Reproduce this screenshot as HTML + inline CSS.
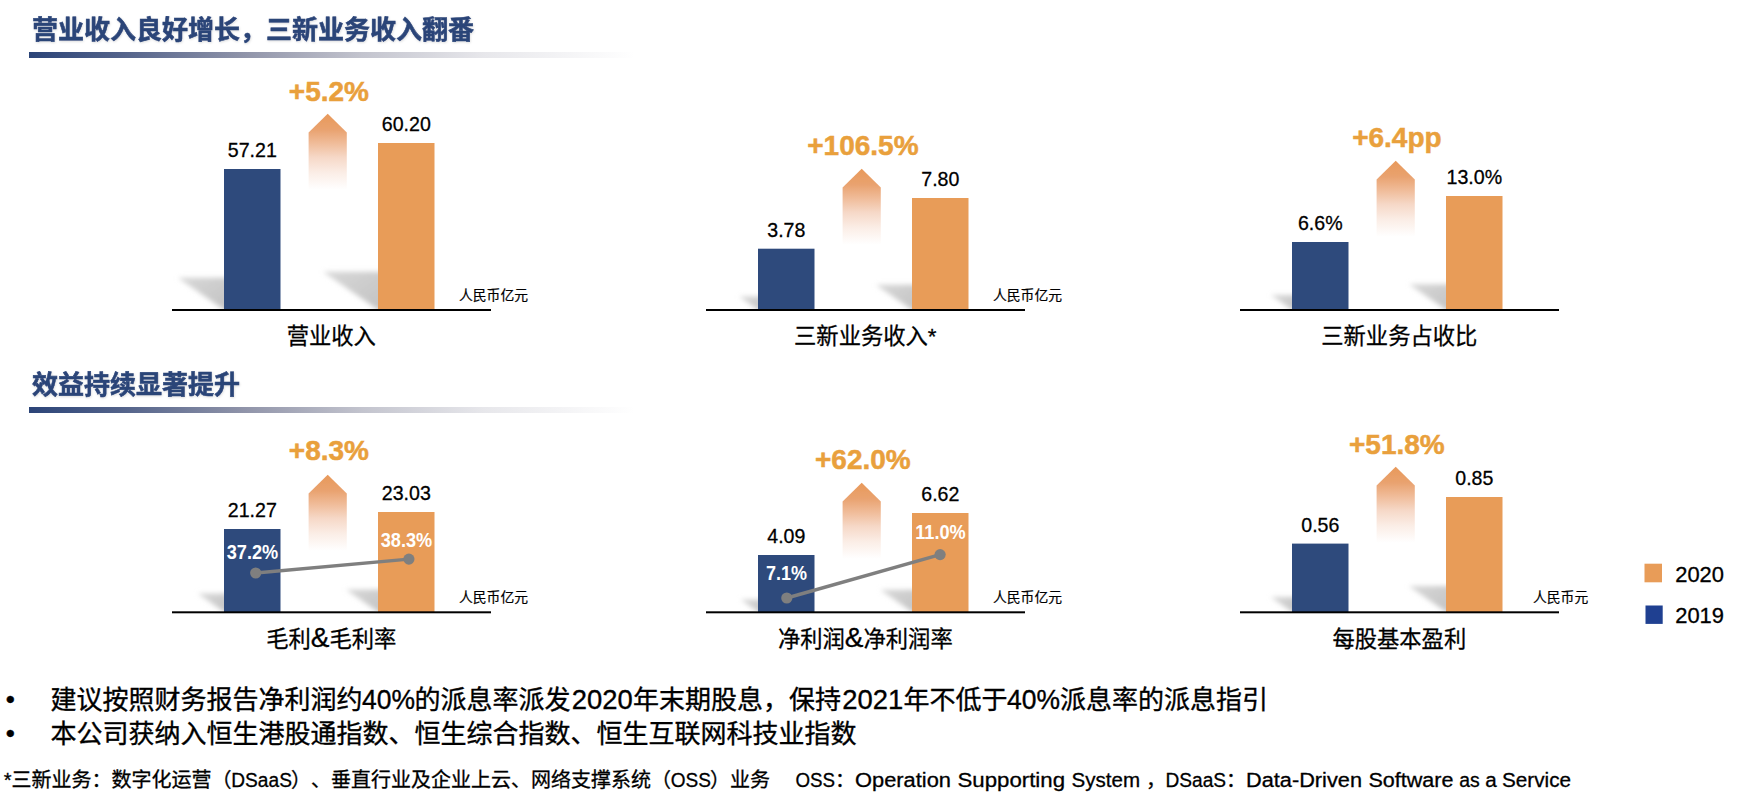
<!DOCTYPE html>
<html lang="zh-CN"><head><meta charset="utf-8"><title>业绩概览</title>
<style>html,body{margin:0;padding:0;background:#fff}body{width:1751px;height:809px;overflow:hidden}svg{display:block}text{font-family:"Liberation Sans","Noto Sans CJK SC",sans-serif}.val{font-size:21px;fill:#000;text-anchor:middle;stroke:#000;stroke-width:0.3px}.pct{font-size:28px;font-weight:bold;fill:#e9a03c;text-anchor:middle;stroke:#e9a03c;stroke-width:0.5px}.unit{font-size:13.8px;fill:#000;stroke:#000;stroke-width:0.2px}.cap{font-size:22.3px;fill:#000;text-anchor:middle;stroke:#000;stroke-width:0.3px}.in{font-size:19.7px;font-weight:bold;fill:#fff;text-anchor:middle}text{text-spacing-trim:space-all}.ttl{font-size:26px;font-weight:bold;fill:#2b4478;stroke:#2b4478;stroke-width:0.55px}.bul{font-size:26px;fill:#000;stroke:#000;stroke-width:0.35px}.fn{font-size:20px;fill:#000;stroke:#000;stroke-width:0.3px}.leg{font-size:21.5px;fill:#000;stroke:#000;stroke-width:0.3px}</style></head><body>
<svg width="1751" height="809" viewBox="0 0 1751 809">
<defs>
<linearGradient id="tb" x1="0" y1="0" x2="1" y2="0"><stop offset="0" stop-color="#2b4478"/><stop offset="0.15" stop-color="#52628a"/><stop offset="0.36" stop-color="#9195aa"/><stop offset="0.55" stop-color="#c3c4ce"/><stop offset="0.75" stop-color="#e7e7eb"/><stop offset="1" stop-color="#fff"/></linearGradient>
<linearGradient id="ar" x1="0" y1="0" x2="0" y2="1"><stop offset="0" stop-color="#e8995a"/><stop offset="0.2" stop-color="#e9a26f"/><stop offset="0.38" stop-color="#f0bd9b"/><stop offset="0.55" stop-color="#f6d8c7"/><stop offset="0.75" stop-color="#fbeee7"/><stop offset="0.96" stop-color="#ffffff"/></linearGradient>
<filter id="bl" x="-20%" y="-20%" width="140%" height="140%"><feGaussianBlur stdDeviation="0.45"/></filter>
<filter id="sh" x="-30%" y="-50%" width="160%" height="200%"><feGaussianBlur stdDeviation="2.9"/></filter>
<filter id="ts" x="-5%" y="-20%" width="110%" height="150%"><feDropShadow dx="0.5" dy="1" stdDeviation="0.8" flood-color="#000" flood-opacity="0.14"/></filter>
<linearGradient id="sg" x1="0.2" y1="0" x2="1" y2="0.8"><stop offset="0" stop-color="#d6d6d6"/><stop offset="1" stop-color="#c3c3c3"/></linearGradient>
<clipPath id="cp0"><rect x="0" y="0" width="1751" height="309"/></clipPath><clipPath id="cp1"><rect x="0" y="400" width="1751" height="211"/></clipPath>
</defs>
<rect width="1751" height="809" fill="#fff"/>
<text class="ttl" x="32" y="39" filter="url(#ts)">营业收入良好增长，三新业务收入翻番</text>
<rect x="29" y="52" width="606" height="6" fill="url(#tb)"/>
<text class="ttl" x="32" y="394" filter="url(#ts)">效益持续显著提升</text>
<rect x="29" y="407" width="606" height="6" fill="url(#tb)"/>
<g clip-path="url(#cp0)"><polygon points="230,314 177.954,277.865 230,277.865" fill="url(#sg)" filter="url(#sh)"/></g>
<g clip-path="url(#cp0)"><polygon points="384,314 323.095,271.755 384,271.755" fill="url(#sg)" filter="url(#sh)"/></g>
<polygon points="327.7,113.7 346.8,132.5 346.8,193 308.6,193 308.6,132.5" fill="url(#ar)" filter="url(#bl)"/>
<rect x="224" y="169" width="56.5" height="141" fill="#2e4a7c"/>
<rect x="378" y="143" width="56.5" height="167" fill="#e89c58"/>
<rect x="172" y="309" width="319" height="2" fill="#000"/>
<text class="val" x="252.3" y="157.4" textLength="49.0" lengthAdjust="spacingAndGlyphs">57.21</text>
<text class="val" x="406.3" y="131.4" textLength="49.0" lengthAdjust="spacingAndGlyphs">60.20</text>
<text class="pct" x="328.9" y="100.7">+5.2%</text>
<text class="unit" x="459" y="299.7">人民币亿元</text>
<text class="cap" x="331.3" y="344">营业收入</text>
<g clip-path="url(#cp0)"><polygon points="764,314 739.112,296.594 764,296.594" fill="url(#sg)" filter="url(#sh)"/></g>
<g clip-path="url(#cp0)"><polygon points="918,314 875.836,284.68 918,284.68" fill="url(#sg)" filter="url(#sh)"/></g>
<polygon points="861.7,168.7 880.8,187.5 880.8,248 842.6,248 842.6,187.5" fill="url(#ar)" filter="url(#bl)"/>
<rect x="758" y="248.7" width="56.5" height="61.3" fill="#2e4a7c"/>
<rect x="912" y="198" width="56.5" height="112" fill="#e89c58"/>
<rect x="706" y="309" width="319" height="2" fill="#000"/>
<text class="val" x="786.3" y="237.1" textLength="38.1" lengthAdjust="spacingAndGlyphs">3.78</text>
<text class="val" x="940.3" y="186.4" textLength="38.1" lengthAdjust="spacingAndGlyphs">7.80</text>
<text class="pct" x="862.9" y="154.7">+106.5%</text>
<text class="unit" x="993" y="299.7">人民币亿元</text>
<text class="cap" x="865.3" y="344">三新业务收入*</text>
<g clip-path="url(#cp0)"><polygon points="1298,314 1270.83,295.02 1298,295.02" fill="url(#sg)" filter="url(#sh)"/></g>
<g clip-path="url(#cp0)"><polygon points="1452,314 1409.15,284.21 1452,284.21" fill="url(#sg)" filter="url(#sh)"/></g>
<polygon points="1395.7,160.7 1414.8,179.5 1414.8,240 1376.6,240 1376.6,179.5" fill="url(#ar)" filter="url(#bl)"/>
<rect x="1292" y="242" width="56.5" height="68" fill="#2e4a7c"/>
<rect x="1446" y="196" width="56.5" height="114" fill="#e89c58"/>
<rect x="1240" y="309" width="319" height="2" fill="#000"/>
<text class="val" x="1320.3" y="230.4" textLength="44.7" lengthAdjust="spacingAndGlyphs">6.6%</text>
<text class="val" x="1474.3" y="184.4" textLength="55.6" lengthAdjust="spacingAndGlyphs">13.0%</text>
<text class="pct" x="1396.9" y="146.7">+6.4pp</text>
<text class="cap" x="1399.3" y="344">三新业务占收比</text>
<g clip-path="url(#cp1)"><polygon points="230,616 197.718,593.495 230,593.495" fill="url(#sg)" filter="url(#sh)"/></g>
<g clip-path="url(#cp1)"><polygon points="384,616 345.925,589.5 384,589.5" fill="url(#sg)" filter="url(#sh)"/></g>
<polygon points="327.7,474.7 346.8,493.5 346.8,554 308.6,554 308.6,493.5" fill="url(#ar)" filter="url(#bl)"/>
<rect x="224" y="529" width="56.5" height="83" fill="#2e4a7c"/>
<rect x="378" y="512" width="56.5" height="100" fill="#e89c58"/>
<rect x="172" y="611.3" width="319" height="2" fill="#000"/>
<text class="val" x="252.3" y="517.4" textLength="49.0" lengthAdjust="spacingAndGlyphs">21.27</text>
<text class="val" x="406.3" y="500.4" textLength="49.0" lengthAdjust="spacingAndGlyphs">23.03</text>
<text class="pct" x="328.9" y="459.7">+8.3%</text>
<text class="unit" x="459" y="602.4">人民币亿元</text>
<text class="cap" x="331.3" y="647.3">毛利<tspan style="font-size:28px">&amp;</tspan>毛利率</text>
<line x1="255.7" y1="573" x2="408.9" y2="559.1" stroke="#7f7f7f" stroke-width="3.4"/>
<circle cx="255.7" cy="573" r="5.6" fill="#7f7f7f"/><circle cx="408.9" cy="559.1" r="5.6" fill="#7f7f7f"/>
<text class="in" x="252.5" y="559.4" textLength="51.5" lengthAdjust="spacingAndGlyphs">37.2%</text>
<text class="in" x="406.5" y="547.4" textLength="51.5" lengthAdjust="spacingAndGlyphs">38.3%</text>
<g clip-path="url(#cp1)"><polygon points="764,616 740.577,599.605 764,599.605" fill="url(#sg)" filter="url(#sh)"/></g>
<g clip-path="url(#cp1)"><polygon points="918,616 880.266,589.735 918,589.735" fill="url(#sg)" filter="url(#sh)"/></g>
<polygon points="861.7,482.7 880.8,501.5 880.8,562 842.6,562 842.6,501.5" fill="url(#ar)" filter="url(#bl)"/>
<rect x="758" y="555" width="56.5" height="57" fill="#2e4a7c"/>
<rect x="912" y="513" width="56.5" height="99" fill="#e89c58"/>
<rect x="706" y="611.3" width="319" height="2" fill="#000"/>
<text class="val" x="786.3" y="543.4" textLength="38.1" lengthAdjust="spacingAndGlyphs">4.09</text>
<text class="val" x="940.3" y="501.4" textLength="38.1" lengthAdjust="spacingAndGlyphs">6.62</text>
<text class="pct" x="862.9" y="468.7">+62.0%</text>
<text class="unit" x="993" y="602.4">人民币亿元</text>
<text class="cap" x="865.3" y="647.3">净利润<tspan style="font-size:28px">&amp;</tspan>净利润率</text>
<line x1="786.8" y1="598" x2="940.1" y2="554.6" stroke="#7f7f7f" stroke-width="3.4"/>
<circle cx="786.8" cy="598" r="5.6" fill="#7f7f7f"/><circle cx="940.1" cy="554.6" r="5.6" fill="#7f7f7f"/>
<text class="in" x="786.5" y="580.4" textLength="41" lengthAdjust="spacingAndGlyphs">7.1%</text>
<text class="in" x="940.5" y="539.1" textLength="50.5" lengthAdjust="spacingAndGlyphs">11.0%</text>
<g clip-path="url(#cp1)"><polygon points="1298,616 1270.69,596.926 1298,596.926" fill="url(#sg)" filter="url(#sh)"/></g>
<g clip-path="url(#cp1)"><polygon points="1452,616 1408.81,585.975 1452,585.975" fill="url(#sg)" filter="url(#sh)"/></g>
<polygon points="1395.7,466.7 1414.8,485.5 1414.8,546 1376.6,546 1376.6,485.5" fill="url(#ar)" filter="url(#bl)"/>
<rect x="1292" y="543.6" width="56.5" height="68.4" fill="#2e4a7c"/>
<rect x="1446" y="497" width="56.5" height="115" fill="#e89c58"/>
<rect x="1240" y="611.3" width="319" height="2" fill="#000"/>
<text class="val" x="1320.3" y="532" textLength="38.1" lengthAdjust="spacingAndGlyphs">0.56</text>
<text class="val" x="1474.3" y="485.4" textLength="38.1" lengthAdjust="spacingAndGlyphs">0.85</text>
<text class="pct" x="1396.9" y="453.7">+51.8%</text>
<text class="unit" x="1533" y="602.4">人民币元</text>
<text class="cap" x="1399.3" y="647.3">每股基本盈利</text>
<rect x="1644.5" y="563.7" width="17.5" height="18.6" fill="#e89c58"/>
<text class="leg" x="1675.2" y="581.5" textLength="48.8" lengthAdjust="spacingAndGlyphs">2020</text>
<rect x="1645.5" y="605.5" width="17.2" height="18.4" fill="#1f4091"/>
<text class="leg" x="1675.2" y="623.3" textLength="48.8" lengthAdjust="spacingAndGlyphs">2019</text>
<text class="bul" x="5.7" y="708">•</text>
<text class="bul" y="708.5"><tspan x="50.5">建议按照财务报告净利润约</tspan><tspan x="362.1" textLength="53" lengthAdjust="spacingAndGlyphs" style="font-size:27.5px">40%</tspan><tspan x="414.5">的派息率派发</tspan><tspan x="571.8" textLength="61" lengthAdjust="spacingAndGlyphs" style="font-size:27.5px">2020</tspan><tspan x="633">年末期股息，保持</tspan><tspan x="842.3" textLength="61" lengthAdjust="spacingAndGlyphs" style="font-size:27.5px">2021</tspan><tspan x="903.5">年不低于</tspan><tspan x="1007.1" textLength="53" lengthAdjust="spacingAndGlyphs" style="font-size:27.5px">40%</tspan><tspan x="1060">派息率的派息指引</tspan></text>
<text class="bul" x="5.7" y="742">•</text>
<text class="bul" y="742.5"><tspan x="50.5">本公司获纳入恒生港股通指数、恒生综合指数、恒生互联网科技业指数</tspan></text>
<text class="fn" y="787.3"><tspan x="3.8">*</tspan><tspan x="11.6">三新业务：数字化运营（</tspan><tspan x="231.3" textLength="60.6" lengthAdjust="spacingAndGlyphs">DSaaS</tspan><tspan x="291">）、垂直行业及企业上云、网络支撑系统（</tspan><tspan x="670.8" textLength="40.2" lengthAdjust="spacingAndGlyphs">OSS</tspan><tspan x="710">）业务</tspan><tspan x="795.4" textLength="39.6" lengthAdjust="spacingAndGlyphs">OSS</tspan><tspan x="835">：</tspan><tspan x="855" textLength="96" lengthAdjust="spacingAndGlyphs">Operation</tspan><tspan> </tspan><tspan x="957.5" textLength="107.5" lengthAdjust="spacingAndGlyphs">Supporting</tspan><tspan> </tspan><tspan x="1071.5" textLength="68.5" lengthAdjust="spacingAndGlyphs">System</tspan><tspan x="1146">，</tspan><tspan x="1165.5" textLength="60.6" lengthAdjust="spacingAndGlyphs">DSaaS</tspan><tspan x="1226">：</tspan><tspan x="1246" textLength="116" lengthAdjust="spacingAndGlyphs">Data-Driven</tspan><tspan> </tspan><tspan x="1368.5" textLength="85" lengthAdjust="spacingAndGlyphs">Software</tspan><tspan> </tspan><tspan x="1459.3" textLength="20.5" lengthAdjust="spacingAndGlyphs">as</tspan><tspan> </tspan><tspan x="1485.3" textLength="11.5" lengthAdjust="spacingAndGlyphs">a</tspan><tspan> </tspan><tspan x="1502" textLength="69" lengthAdjust="spacingAndGlyphs">Service</tspan></text>
</svg></body></html>
